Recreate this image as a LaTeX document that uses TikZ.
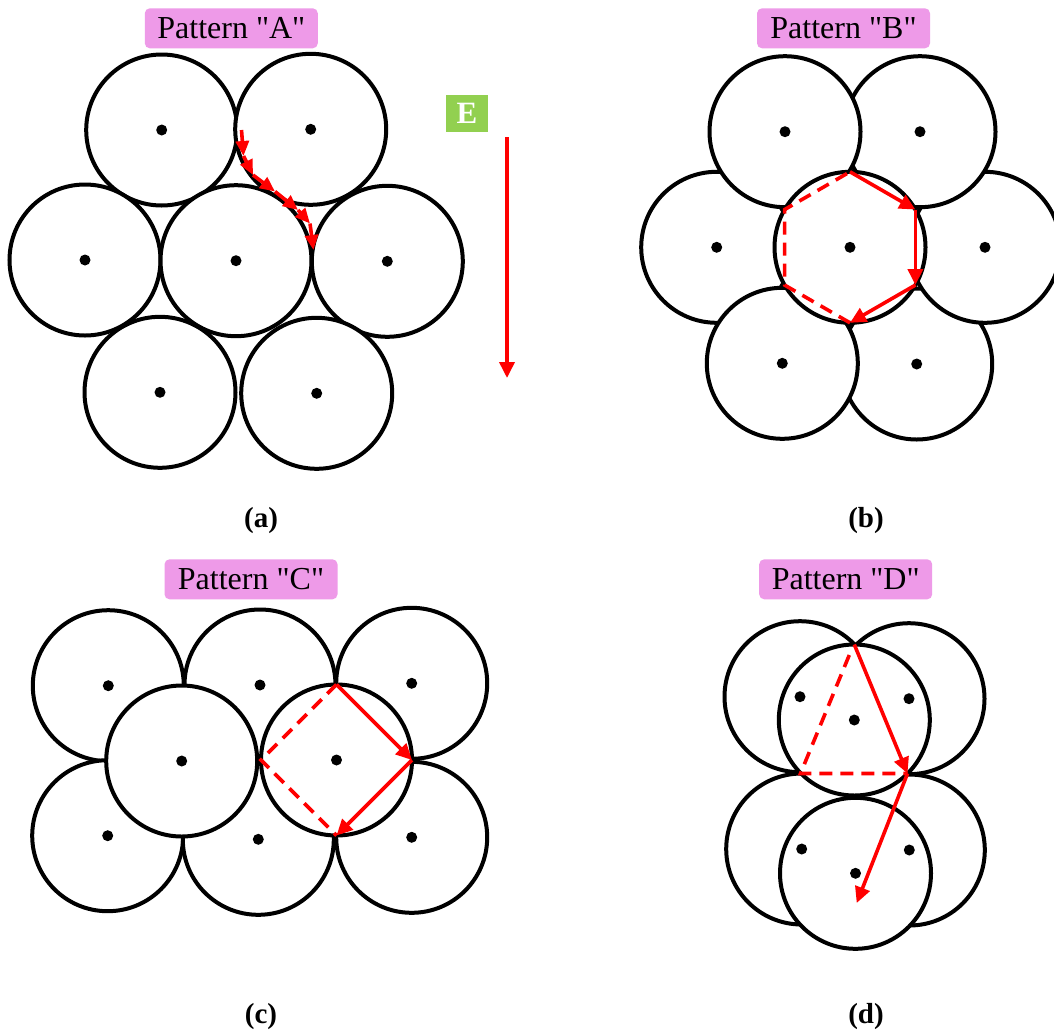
\documentclass[tikz,border=0pt]{standalone}
\usepackage{fontspec}
\setmainfont{Liberation Serif}
\usetikzlibrary{arrows.meta}
\definecolor{tagpink}{RGB}{238,154,232}
\definecolor{taggreen}{RGB}{146,208,80}
\definecolor{flowred}{RGB}{255,0,0}
\newcommand{\qq}{\textquotedbl}
\tikzset{
  ball/.style={circle,draw=black,fill=white,line width=4pt,minimum size=151pt,inner sep=0pt,outer sep=0pt},
  tag/.style={fill=tagpink,rounded corners=5pt,minimum width=173pt,minimum height=40pt,inner sep=0pt,
    font=\fontsize{32}{36}\selectfont},
  fieldtag/.style={fill=taggreen,minimum width=42pt,minimum height=37pt,inner sep=0pt,text=white,
    font=\fontsize{31}{34}\selectfont\bfseries},
  caption/.style={font=\fontsize{29}{33}\selectfont\bfseries},
  hop/.style={draw=flowred,line width=3.6pt,-{Triangle[length=16pt,width=15pt]}},
  smallhop/.style={draw=flowred,line width=3.6pt,-{Triangle[length=15pt,width=13pt]}},
  backpath/.style={draw=flowred,line width=3.6pt,dash pattern=on 13pt off 8pt},
  dot/.style={fill=black},
}
\begin{document}
\begin{tikzpicture}[x=1pt,y=-1pt]
\clip (0,0) rectangle (1054,1031);
\fill[white] (0,0) rectangle (1054,1031);

% ---------- Pattern A: close-packed layer ----------
\node[tag] (tagA) at (231.3,28.3) {Pattern \qq A\qq};
\node[ball] (a1) at (161.7,130) {};
\node[ball] (a2) at (310.7,129.3) {};
\node[ball] (a3) at (85,260) {};
\node[ball] (a4) at (236,260.7) {};
\node[ball] (a5) at (387.3,261.3) {};
\node[ball] (a6) at (160,392.3) {};
\node[ball] (a7) at (316.7,393.3) {};
\foreach \n in {a1,a2,a3,a4,a5,a6,a7} \fill[dot] (\n.center) circle[radius=5.5pt];

\coordinate (ap0) at (241.5,130);
\coordinate (ap1) at (243.5,156);
\coordinate (ap2) at (253,175);
\coordinate (ap3) at (275,191.5);
\coordinate (ap4) at (298,210);
\coordinate (ap5) at (310,223.5);
\coordinate (ap6) at (313.5,250);
\draw[smallhop] (ap0) -- (ap1);
\draw[smallhop] (ap1) -- (ap2);
\draw[smallhop] (ap2) -- (ap3);
\draw[smallhop] (ap3) -- (ap4);
\draw[smallhop] (ap4) -- (ap5);
\draw[smallhop] (ap5) -- (ap6);

% field direction
\node[fieldtag] (E) at (467,113.3) {E};
\coordinate (etop) at (507,137);
\coordinate (ebot) at (507,378);
\draw[hop] (etop) -- (ebot);

% ---------- Pattern B: hexagonal ring ----------
\node[tag] (tagB) at (843.5,28.3) {Pattern \qq B\qq};
\node[ball] (b1) at (916.7,364) {};
\node[ball] (b2) at (985,247.3) {};
\node[ball] (b3) at (920,131.7) {};
\node[ball] (b4) at (716.7,247.3) {};
\node[ball] (b5) at (782.3,363.3) {};
\node[ball] (b6) at (785,131.7) {};
\node[ball] (b0) at (850,247.3) {};
\foreach \n in {b0,b1,b2,b3,b4,b5,b6} \fill[dot] (\n.center) circle[radius=5.5pt];

\draw[backpath] (b0.-90) -- (b0.210) -- (b0.150) -- (b0.90);
\draw[hop] (b0.90) -- (b0.30);
\draw[hop] (b0.30) -- (b0.-30);
\draw[hop] (b0.-30) -- (b0.-90);

% ---------- Pattern C: square path ----------
\node[tag] (tagC) at (251,579.3) {Pattern \qq C\qq};
\node[ball] (ct1) at (108.3,685.7) {};
\node[ball] (ct2) at (260,685) {};
\node[ball] (ct3) at (411.7,683.3) {};
\node[ball] (cb1) at (107.7,835.7) {};
\node[ball] (cb2) at (258.3,839.3) {};
\node[ball] (cb3) at (411.7,837.3) {};
\node[ball] (cm1) at (181.7,761) {};
\node[ball] (cm2) at (336.5,760) {};
\foreach \n in {ct1,ct2,ct3,cb1,cb2,cb3,cm1,cm2} \fill[dot] (\n.center) circle[radius=5.5pt];

\draw[backpath] (cm2.north) -- (cm2.west) -- (cm2.south);
\draw[hop] (cm2.north) -- (cm2.east);
\draw[hop] (cm2.east) -- (cm2.south);

% ---------- Pattern D: stacked layers ----------
\node[tag] (tagD) at (845.7,579.3) {Pattern \qq D\qq};
\node[ball] (du1) at (800,696.7) {};
\node[ball] (du2) at (909,698.7) {};
\node[ball] (dl1) at (801.7,849) {};
\node[ball] (dl2) at (909.3,850) {};
\node[ball] (dfu) at (854.3,720) {};
\node[ball] (dfl) at (855.5,873.3) {};
\foreach \n in {du1,du2,dl1,dl2,dfu,dfl} \fill[dot] (\n.center) circle[radius=5.5pt];

\coordinate (dstart) at (849.3,655);
\coordinate (dleft) at (800.5,773.5);
\coordinate (dright) at (907.5,773.5);
\coordinate (dtip) at (856.7,903);
\draw[backpath] (dstart) -- (dleft) -- (dright);
\draw[hop] (dfu.north) -- (dright);
\draw[hop] (dright) -- (dtip);

% ---------- captions ----------
\node[caption] (capa) at (261,521) {(a)};
\node[caption] (capb) at (866,521) {(b)};
\node[caption] (capc) at (261,1017) {(c)};
\node[caption] (capd) at (866,1017) {(d)};
\end{tikzpicture}
\end{document}
